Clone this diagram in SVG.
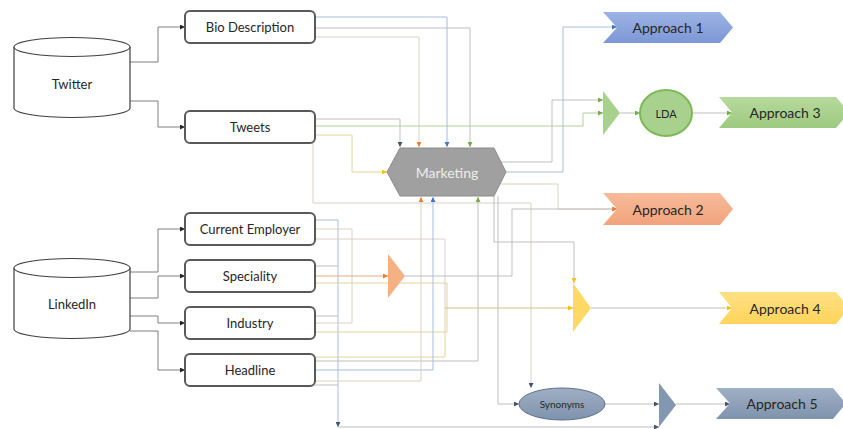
<svg xmlns="http://www.w3.org/2000/svg" width="843" height="429" viewBox="0 0 843 429">
<style>
.cyl{fill:#fff;stroke:#404040;stroke-width:1.2}
.box{fill:#fff;stroke:#595959;stroke-width:2}
.t{font-family:Lato,"Liberation Sans",sans-serif;font-size:13px;fill:#262626;text-anchor:middle;dominant-baseline:central}
.ta{font-family:Lato,"Liberation Sans",sans-serif;font-size:14px;fill:#262626;text-anchor:middle;dominant-baseline:central}
.c{fill:none;stroke-width:1}
.dk{stroke:#7F7F7F}
.gy{stroke:#BFBFBF}
.bl{stroke:#A9BCDD}
.bg{stroke:#DCCFC4}
.yl{stroke:#E3D49F}
.gr{stroke:#B2CF9B}
.or{stroke:#E9A987}
</style>
<defs>
<marker id="aK" viewBox="0 0 6 6" refX="6" refY="3" markerWidth="5" markerHeight="5" markerUnits="userSpaceOnUse" orient="auto"><path d="M0,0L6,3L0,6Z" fill="#262626"/></marker>
<marker id="aD" viewBox="0 0 6 6" refX="6" refY="3" markerWidth="5" markerHeight="5" markerUnits="userSpaceOnUse" orient="auto"><path d="M0,0L6,3L0,6Z" fill="#44546A"/></marker>
<marker id="aO" viewBox="0 0 6 6" refX="6" refY="3" markerWidth="5" markerHeight="5" markerUnits="userSpaceOnUse" orient="auto"><path d="M0,0L6,3L0,6Z" fill="#ED7D31"/></marker>
<marker id="aB" viewBox="0 0 6 6" refX="6" refY="3" markerWidth="5" markerHeight="5" markerUnits="userSpaceOnUse" orient="auto"><path d="M0,0L6,3L0,6Z" fill="#4472C4"/></marker>
<marker id="aG" viewBox="0 0 6 6" refX="6" refY="3" markerWidth="5" markerHeight="5" markerUnits="userSpaceOnUse" orient="auto"><path d="M0,0L6,3L0,6Z" fill="#70AD47"/></marker>
<marker id="aY" viewBox="0 0 6 6" refX="6" refY="3" markerWidth="5" markerHeight="5" markerUnits="userSpaceOnUse" orient="auto"><path d="M0,0L6,3L0,6Z" fill="#FFC000"/></marker>
<linearGradient id="gBlue" x1="0" y1="0" x2="0" y2="1"><stop offset="0" stop-color="#9DB3E4"/><stop offset="1" stop-color="#7C97D6"/></linearGradient>
<linearGradient id="gOr" x1="0" y1="0" x2="0" y2="1"><stop offset="0" stop-color="#F7BB9B"/><stop offset="1" stop-color="#F1A37C"/></linearGradient>
<linearGradient id="gGr" x1="0" y1="0" x2="0" y2="1"><stop offset="0" stop-color="#B6D99D"/><stop offset="1" stop-color="#9DCA80"/></linearGradient>
<linearGradient id="gYl" x1="0" y1="0" x2="0" y2="1"><stop offset="0" stop-color="#FFE085"/><stop offset="1" stop-color="#FFD45A"/></linearGradient>
<linearGradient id="gSl" x1="0" y1="0" x2="0" y2="1"><stop offset="0" stop-color="#9FAFC5"/><stop offset="1" stop-color="#7F93AD"/></linearGradient>
</defs>

<g id="connectors">
<!-- sources to fields -->
<path class="c dk" d="M130,62H158V27H185" marker-end="url(#aK)"/>
<path class="c dk" d="M130,101H158V127H185" marker-end="url(#aK)"/>
<path class="c dk" d="M130,272H158V229H185" marker-end="url(#aK)"/>
<path class="c dk" d="M130,298H158V276H185" marker-end="url(#aK)"/>
<path class="c dk" d="M130,316H158V323H185" marker-end="url(#aK)"/>
<path class="c dk" d="M130,331H158V370H185" marker-end="url(#aK)"/>
<!-- Bio Description -->
<path class="c bl" d="M315,17H447V147" marker-end="url(#aB)"/>
<path class="c gy" d="M315,28H470V147" marker-end="url(#aG)"/>
<path class="c bg" d="M315,37H419V147" marker-end="url(#aO)"/>
<!-- Tweets -->
<path class="c gy" d="M315,119H400V147" marker-end="url(#aD)"/>
<path class="c gr" d="M315,126H583V113H603" marker-end="url(#aG)"/>
<path class="c yl" d="M315,135H352V172H387" marker-end="url(#aY)"/>
<path class="c bg" d="M313,143V203H531V388" marker-end="url(#aD)"/>
<!-- Marketing outputs -->
<path class="c gy" d="M496,162H552V100H603" marker-end="url(#aG)"/>
<path class="c bl" d="M506,172H563V27H617" marker-end="url(#aB)"/>
<path class="c bg" d="M497,184H558V209H617" marker-end="url(#aO)"/>
<path class="c gy" d="M494,196V242H574V283" marker-end="url(#aY)"/>
<path class="c gy" d="M498,196V404H519" marker-end="url(#aD)"/>
<!-- Current Employer -->
<path class="c bl" d="M315,220H338V427" marker-end="url(#aD)"/>
<path class="c gy" d="M338,427H659" marker-end="url(#aD)"/>
<path class="c bg" d="M315,229H352V323H315"/>
<path class="c bg" d="M315,239H445V308"/>
<!-- Speciality -->
<path class="c gy" d="M315,266H338"/>
<path class="c or" d="M315,276H388" marker-end="url(#aO)"/>
<path class="c yl" d="M315,283H447V308"/>
<!-- Industry -->
<path class="c gy" d="M315,316H338"/>
<path class="c yl" d="M315,332H447V308"/>
<!-- Headline -->
<path class="c yl" d="M315,357H445V308"/>
<path class="c gy" d="M315,361H478V197" marker-end="url(#aG)"/>
<path class="c bl" d="M315,370H433V197" marker-end="url(#aB)"/>
<path class="c bg" d="M315,381H421V197" marker-end="url(#aO)"/>
<path class="c gy" d="M315,385H338"/>
<!-- merge into yellow -->
<path class="c" stroke="#D6C385" stroke-width="1.5" d="M445,308H573" marker-end="url(#aY)"/>
<!-- merges to approaches -->
<path class="c gy" d="M405,276H512V209H617" marker-end="url(#aO)"/>
<path class="c gy" d="M620,113H640" marker-end="url(#aG)"/>
<path class="c gy" d="M693,113H732" marker-end="url(#aG)"/>
<path class="c gy" d="M591,308H732" marker-end="url(#aY)"/>
<path class="c gy" d="M605,404H659" marker-end="url(#aD)"/>
<path class="c gy" d="M676,404H730" marker-end="url(#aD)"/>
</g>

<g id="twitter">
<path class="cyl" d="M14,47A58,9.5 0 0 1 130,47V108A58,9.5 0 0 1 14,108Z"/>
<path class="cyl" fill="none" d="M14,47A58,9.5 0 0 0 130,47"/>
<text class="t" x="72" y="84">Twitter</text>
</g>
<g id="linkedin">
<path class="cyl" d="M14,268A58,9.5 0 0 1 130,268V329A58,9.5 0 0 1 14,329Z"/>
<path class="cyl" fill="none" d="M14,268A58,9.5 0 0 0 130,268"/>
<text class="t" x="72" y="304">LinkedIn</text>
</g>

<g id="bio-description"><rect class="box" x="185" y="11" width="130" height="32" rx="5"/><text class="t" x="250" y="27">Bio Description</text></g>
<g id="tweets"><rect class="box" x="185" y="111" width="130" height="32" rx="5"/><text class="t" x="250" y="127">Tweets</text></g>
<g id="current-employer"><rect class="box" x="185" y="213" width="130" height="32" rx="5"/><text class="t" x="250" y="229">Current Employer</text></g>
<g id="speciality"><rect class="box" x="185" y="260" width="130" height="32" rx="5"/><text class="t" x="250" y="276">Speciality</text></g>
<g id="industry"><rect class="box" x="185" y="307" width="130" height="32" rx="5"/><text class="t" x="250" y="323">Industry</text></g>
<g id="headline"><rect class="box" x="185" y="354" width="130" height="32" rx="5"/><text class="t" x="250" y="370">Headline</text></g>

<g id="marketing">
<polygon points="387,172 400,148 494,148 506,172 494,196 400,196" fill="#A0A0A0" stroke="#8C8C8C" stroke-width="1"/>
<text class="t" x="447" y="172" fill="#EDEDED" style="fill:#EDEDED;font-size:14px">Marketing</text>
</g>

<g id="merge-green"><polygon points="603,91 620,113 603,135" fill="#A9D18E"/></g>
<g id="lda"><ellipse cx="666" cy="113" rx="26" ry="23" fill="#A9D18E" stroke="#7DB856" stroke-width="2"/><text class="t" x="666" y="113" style="font-size:11px">LDA</text></g>
<g id="merge-orange"><polygon points="388,254 405,276 388,298" fill="#F4B183"/></g>
<g id="merge-yellow"><polygon points="573,283 591,308 573,332" fill="#FFD966"/></g>
<g id="synonyms"><ellipse cx="562" cy="404" rx="43" ry="16" fill="url(#gSl)" stroke="#5F6F86" stroke-width="1"/><text class="t" x="562" y="404" style="font-size:10px">Synonyms</text></g>
<g id="merge-slate"><polygon points="659,383 676,405 659,427" fill="#8497B0"/></g>

<g id="approach-1"><polygon points="603,12 720,12 733,27.5 720,43 603,43 617,27.5" fill="url(#gBlue)"/><text class="ta" x="668" y="27.5">Approach 1</text></g>
<g id="approach-2"><polygon points="603,193 720,193 733,209 720,225 603,225 617,209" fill="url(#gOr)"/><text class="ta" x="668" y="209">Approach 2</text></g>
<g id="approach-3"><polygon points="719,97 836,97 849,112.5 836,128 719,128 732,112.5" fill="url(#gGr)"/><text class="ta" x="785" y="112.5">Approach 3</text></g>
<g id="approach-4"><polygon points="719,292 836,292 849,308 836,324 719,324 732,308" fill="url(#gYl)"/><text class="ta" x="785" y="308">Approach 4</text></g>
<g id="approach-5"><polygon points="716,388 833,388 846,403.5 833,419 716,419 730,403.5" fill="url(#gSl)"/><text class="ta" x="782" y="403.5">Approach 5</text></g>
</svg>
